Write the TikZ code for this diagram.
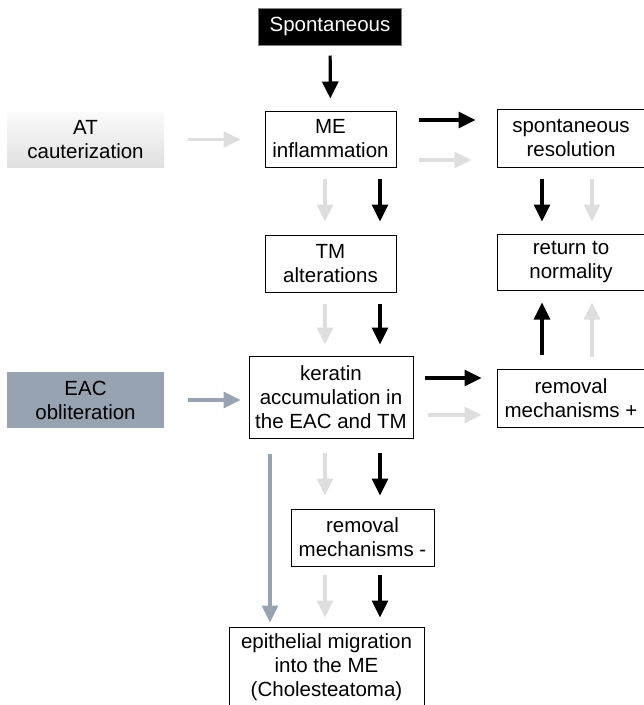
\documentclass[tikz,border=0pt]{standalone}
\usepackage{fontspec}
\setmainfont{Liberation Sans}
\usetikzlibrary{arrows.meta, positioning}
\definecolor{lightarr}{HTML}{DEDEDE}
\definecolor{bluegray}{HTML}{97A3B1}
\tikzset{
    box/.style={draw, line width=1pt, align=center, inner sep=2pt,
        font=\fontsize{20.5}{24}\selectfont},
    blk/.style={-{Triangle[width=16pt,length=17pt]}, line width=3.2pt, black},
    lgt/.style={-{Triangle[width=16pt,length=17pt]}, line width=3.2pt, lightarr},
    blu/.style={-{Triangle[width=16pt,length=17pt]}, line width=3.2pt, bluegray}
}

\begin{document}
\begin{tikzpicture}[x=1pt, y=-1pt]
    \useasboundingbox (0,0) rectangle (644,705);
    % Causes
    \node[box, draw=gray, fill=black, text=white, minimum width=143pt, minimum height=37pt] (spont) at (330,26.5) {Spontaneous};
    \node[box, draw=none, top color=gray!4, bottom color=gray!24, minimum width=157pt, minimum height=55pt] (at) at (85.5,139.5) {AT\\cauterization};
    \node[box, draw=none, fill=bluegray, minimum width=157pt, minimum height=56pt] (eac) at (85.5,400) {EAC\\obliteration};
    % Main column
    \node[box, minimum width=131pt, minimum height=56pt] (me) at (330.5,139) {ME\\inflammation};
    \node[box, minimum width=131pt, minimum height=57pt] (tm) at (330.5,263.5) {TM\\alterations};
    \node[box, minimum width=164pt, minimum height=82pt] (ker) at (331,397) {keratin\\accumulation in\\the EAC and TM};
    \node[box, minimum width=143pt, minimum height=57pt] (rmm) at (362.5,537.5) {removal\\mechanisms -};
    \node[box, minimum width=195pt, minimum height=80pt] (epi) at (326.5,667) {epithelial migration\\into the ME\\(Cholesteatoma)};
    % Right column
    \node[box, minimum width=148pt, minimum height=58pt] (spres) at (571,138) {spontaneous\\resolution};
    \node[box, minimum width=148pt, minimum height=56pt] (ret) at (571,262) {return to\\normality};
    \node[box, minimum width=148pt, minimum height=58pt] (rmp) at (571,398) {removal\\mechanisms +};
    % Arrows into the main column
    \draw[blk, shorten <=10pt, shorten >=12pt] (spont) -- (me);
    \draw[lgt, shorten <=23pt, shorten >=24pt] (at.east) -- (at.east -| me.west);
    \draw[blu, shorten <=23pt, shorten >=8pt] (eac.east) -- (eac.east -| ker.west);
    \draw[lgt, shorten <=11pt, shorten >=13pt] ([xshift=-5.5pt]me.south) -- ([xshift=-5.5pt]tm.north);
    \draw[blk, shorten <=11pt, shorten >=13pt] ([xshift=49.5pt]me.south) -- ([xshift=49.5pt]tm.north);
    \draw[lgt, shorten <=11pt, shorten >=11pt] ([xshift=-5.5pt]tm.south) -- ([xshift=-5.5pt]tm.south |- ker.north);
    \draw[blk, shorten <=11pt, shorten >=11pt] ([xshift=49.5pt]tm.south) -- ([xshift=49.5pt]tm.south |- ker.north);
    \draw[lgt, shorten <=14pt, shorten >=13pt] ([xshift=-6pt]ker.south) -- ([xshift=-6pt]ker.south |- rmm.north);
    \draw[blk, shorten <=14pt, shorten >=13pt] ([xshift=49pt]ker.south) -- ([xshift=49pt]ker.south |- rmm.north);
    \draw[blu, shorten <=15pt, shorten >=4pt] ([xshift=-61pt]ker.south) -- ([xshift=-61pt]ker.south |- epi.north);
    \draw[lgt, shorten <=8pt, shorten >=9pt] ([xshift=-37.5pt]rmm.south) -- ([xshift=-37.5pt]rmm.south |- epi.north);
    \draw[blk, shorten <=8pt, shorten >=9pt] ([xshift=17.5pt]rmm.south) -- ([xshift=17.5pt]rmm.south |- epi.north);
    % Arrows to the right column
    \draw[blk, shorten <=22pt, shorten >=21pt] ([yshift=19pt]me.east) -- ([yshift=19pt]me.east -| spres.west);
    \draw[lgt, shorten <=22pt, shorten >=25pt] ([yshift=-21pt]me.east) -- ([yshift=-21pt]me.east -| spres.west);
    \draw[blk, shorten <=11pt, shorten >=15pt] ([yshift=19pt]ker.east) -- ([yshift=19pt]ker.east -| rmp.west);
    \draw[lgt, shorten <=14pt, shorten >=15pt] ([yshift=-18pt]ker.east) -- ([yshift=-18pt]ker.east -| rmp.west);
    \draw[blk, shorten <=11pt, shorten >=12pt] ([xshift=-29pt]spres.south) -- ([xshift=-29pt]ret.north);
    \draw[lgt, shorten <=11pt, shorten >=12pt] ([xshift=21pt]spres.south) -- ([xshift=21pt]ret.north);
    \draw[blk, shorten <=14pt, shorten >=12pt] ([xshift=-29pt]rmp.north) -- ([xshift=-29pt]ret.south);
    \draw[lgt, shorten <=12pt, shorten >=12pt] ([xshift=21pt]rmp.north) -- ([xshift=21pt]ret.south);
\end{tikzpicture}
\end{document}
